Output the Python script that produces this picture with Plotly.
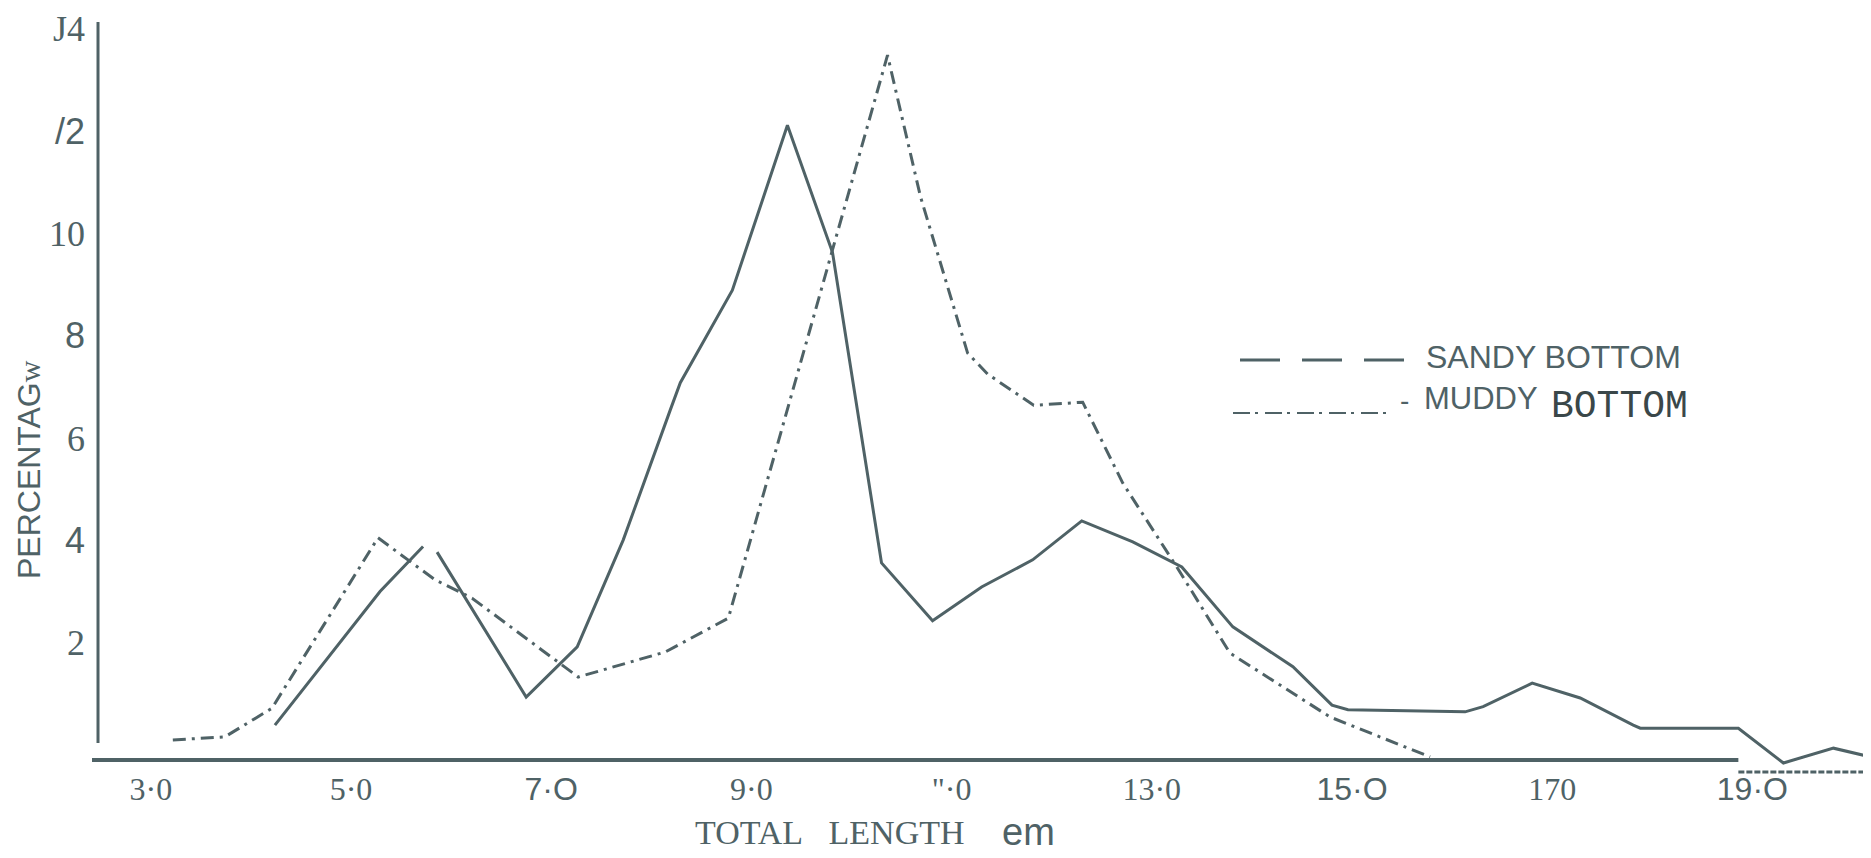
import plotly.graph_objects as go

# ---------------- data ----------------
sandy_x = [4.24, 5.29, 5.72, None, 5.86, 6.75, 7.26, 7.72, 8.19, 8.29, 8.81, 9.36, 9.81,
           10.30, 10.81, 11.30, 11.81, 12.30, 12.81, 13.30, 13.81, 14.41, 14.80, 14.96,
           16.13, 16.31, 16.80, 17.28, 17.81, 17.88, 18.86, 19.31, 19.81, 20.18]
sandy_y = [0.39, 3.00, 3.88, None, 3.77, 0.94, 1.92, 4.01, 6.55, 7.08, 8.89, 12.11, 9.63,
           3.56, 2.43, 3.09, 3.62, 4.38, 3.97, 3.48, 2.31, 1.53, 0.78, 0.69,
           0.65, 0.75, 1.21, 0.92, 0.39, 0.33, 0.33, -0.35, -0.06, -0.23]

muddy_x = [3.22, 3.74, 4.21, 5.27, 5.84, 6.21, 7.27, 8.14, 8.77, 9.79, 10.36, 10.69,
           11.16, 11.36, 11.82, 12.31, 12.71, 13.25, 13.78, 14.78, 15.61, 15.78]
muddy_y = [0.10, 0.16, 0.72, 4.05, 3.23, 2.87, 1.33, 1.82, 2.48, 9.57, 13.48, 10.71,
           7.66, 7.25, 6.64, 6.70, 5.12, 3.48, 1.80, 0.55, -0.10, -0.23]

SERIF = "Liberation Serif"
SANS = "Liberation Sans"
MONO = "Liberation Mono"

def sp(t, fam):
    return f"<span style='font-family:{fam}'>{t}</span>"

x_tickvals = [3, 5, 7, 9, 11, 13, 15, 17, 19]
x_ticktext = ["3·0", "5·0", sp("7·O", SANS), "9·0", "\"·0", "13·0",
              sp("15·O", SANS), "170", sp("19·O", SANS)]
y_tickvals = [2, 4, 6, 8, 10, 12, 14]
y_ticktext = ["2", sp("4", SANS), "6", sp("8", SANS), "10", sp("/2", SANS), "J4"]

INK = "#4f6266"

# ---------------- figure ----------------
fig = go.Figure()
fig.add_trace(go.Scatter(x=sandy_x, y=sandy_y, mode="lines", connectgaps=False,
                         line=dict(color=INK, width=3), showlegend=False,
                         name="SANDY BOTTOM"))
fig.add_trace(go.Scatter(x=muddy_x, y=muddy_y, mode="lines",
                         line=dict(color=INK, width=3, dash="13px,6px,3px,6px"),
                         showlegend=False, name="MUDDY BOTTOM"))

XR = [2.4126, 20.185]
YR = [-0.428, 14.129]

# screen pixel (page) -> paper coordinates of the plot area (92..1871, 22..767)
def px_x(p):
    return (p - 92) / 1779.0

def px_y(p):
    return (767 - p) / 745.0

shapes = [
    # y axis line
    dict(type="line", xref="x", yref="y", x0=2.4726, x1=2.4726, y0=0.04, y1=YR[1],
         line=dict(color=INK, width=3)),
    # x axis line
    dict(type="line", xref="x", yref="y", x0=XR[0], x1=18.86, y0=-0.291, y1=-0.291,
         line=dict(color=INK, width=4)),
    dict(type="line", xref="x", yref="paper", x0=18.86, x1=XR[1], y0=px_y(772), y1=px_y(772),
         line=dict(color=INK, width=3, dash="6px,2px")),
    # legend samples
    dict(type="line", xref="paper", yref="paper", x0=px_x(1240), x1=px_x(1405),
         y0=px_y(360), y1=px_y(360), line=dict(color=INK, width=3, dash="40px,22px")),
    dict(type="line", xref="paper", yref="paper", x0=px_x(1233), x1=px_x(1387),
         y0=px_y(413), y1=px_y(413), line=dict(color=INK, width=2, dash="17px,5px,3px,7px")),
]

annotations = [
    dict(xref="paper", yref="paper", x=px_x(1424), y=px_y(357), xanchor="left",
         yanchor="middle", text="SANDY BOTTOM", showarrow=False,
         font=dict(family=SANS, size=32, color=INK)),
    dict(xref="paper", yref="paper", x=px_x(1398), y=px_y(400), xanchor="left",
         yanchor="middle", text="-", showarrow=False,
         font=dict(family=SANS, size=28, color=INK)),
    dict(xref="paper", yref="paper", x=px_x(1422), y=px_y(398), xanchor="left",
         yanchor="middle", text="MUDDY", showarrow=False,
         font=dict(family=SANS, size=31, color=INK)),
    dict(xref="paper", yref="paper", x=px_x(1549), y=px_y(406), xanchor="left",
         yanchor="middle", text="BOTTOM", showarrow=False,
         font=dict(family=MONO, size=38, color="#3a4749")),
    # axis titles
    dict(xref="paper", yref="paper", x=px_x(693), y=px_y(832), xanchor="left",
         yanchor="middle", text="TOTAL&nbsp;&nbsp;&nbsp;LENGTH", showarrow=False,
         font=dict(family=SERIF, size=34, color=INK)),
    dict(xref="paper", yref="paper", x=px_x(1000), y=px_y(832), xanchor="left",
         yanchor="middle", text="em", showarrow=False,
         font=dict(family=SANS, size=38, color=INK)),
    dict(xref="paper", yref="paper", x=px_x(29), y=px_y(470), xanchor="center",
         yanchor="middle", textangle=-90, showarrow=False,
         text="PERCENTAG" + "<span style='font-family:Liberation Serif;font-size:30px'>w</span>",
         font=dict(family=SANS, size=32, color=INK)),
]

# page body has an 8px margin: shift the figure margins to compensate
fig.update_layout(
    width=1871, height=858,
    margin=dict(l=84, r=8, t=14, b=99, pad=0, autoexpand=False),
    paper_bgcolor="white", plot_bgcolor="white",
    showlegend=False,
    shapes=shapes, annotations=annotations,
    xaxis=dict(range=XR, tickvals=x_tickvals, ticktext=x_ticktext, automargin=False,
               showgrid=False, zeroline=False, showline=False, ticks="",
               tickfont=dict(family=SERIF, size=32, color=INK)),
    yaxis=dict(range=YR, tickvals=y_tickvals, ticktext=y_ticktext, automargin=False,
               showgrid=False, zeroline=False, showline=False, ticks="",
               ticklabelstandoff=6,
               tickfont=dict(family=SERIF, size=36, color=INK)),
)

fig.write_html("out.html")
